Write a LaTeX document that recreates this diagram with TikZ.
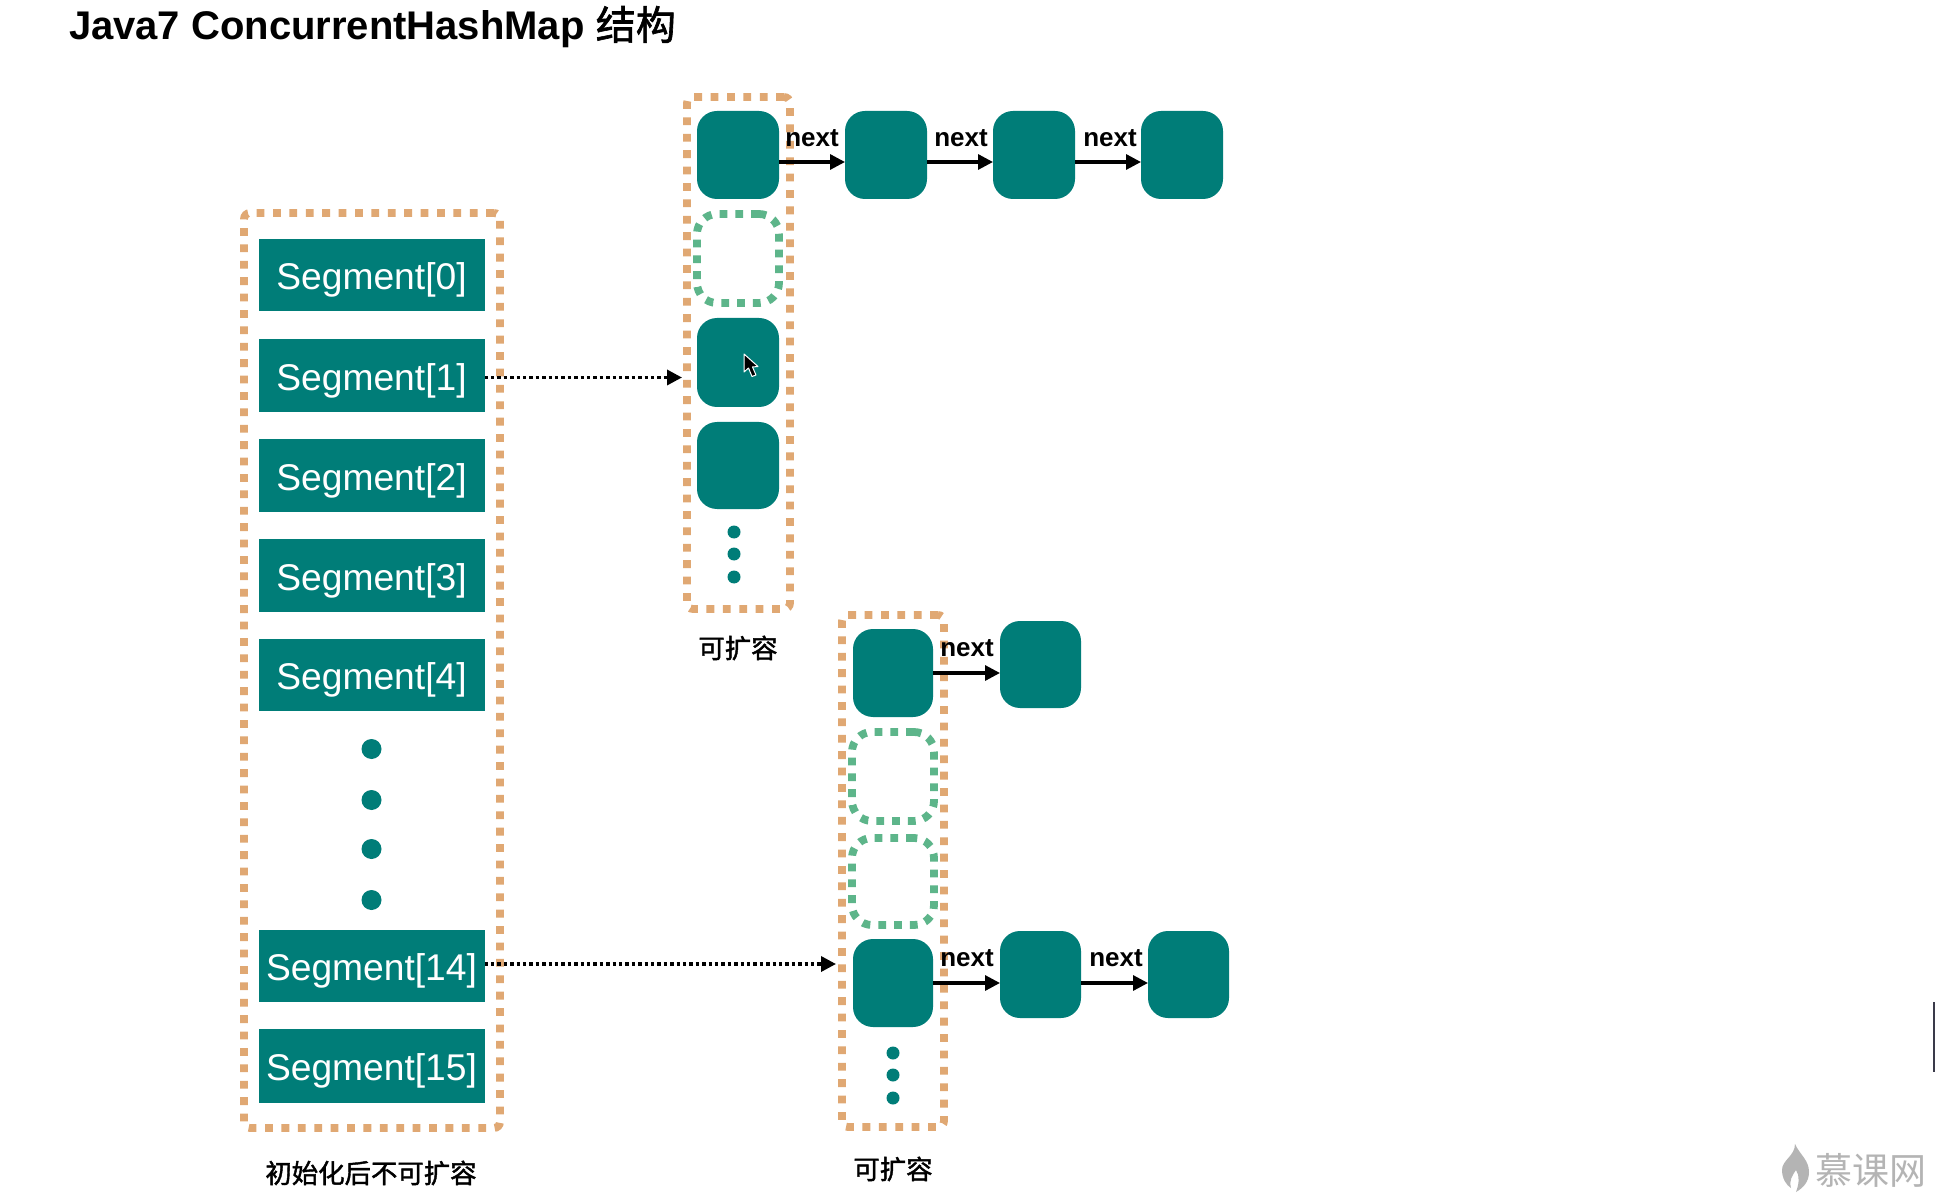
\documentclass[tikz,border=0pt]{standalone}
\usepackage{fontspec}
\setmainfont{Liberation Sans}
\newfontfamily\cjk{Noto Sans CJK SC}
\newfontfamily\cjkm[FakeBold=1.6]{Noto Sans CJK SC}
\usetikzlibrary{arrows.meta,calc}
\definecolor{tealc}{HTML}{007D78}
\definecolor{orangec}{HTML}{E0A873}
\definecolor{greenc}{HTML}{5DB58A}
\definecolor{wmc}{HTML}{B4B4B4}
\definecolor{barc}{HTML}{3A3A4A}
\tikzset{
  every node/.style={inner sep=0pt,outer sep=0pt},
  orangebox/.style={draw=orangec,line width=3.9pt,dash pattern=on 3.9pt off 4.3pt,rounded corners=3pt,fill=none},
  slotbox/.style={draw=greenc,line width=3.9pt,dash pattern=on 3.9pt off 4pt,rounded corners=10pt,fill=none},
  tealnode/.style={fill=tealc,rounded corners=10pt},
  segbox/.style={fill=tealc,text=white,text height=14.6pt,text depth=0pt,font=\fontsize{18.6}{22}\selectfont},
  dotnode/.style={circle,fill=tealc,minimum size=#1},
  nextlabel/.style={font=\fontsize{13}{15}\selectfont\bfseries},
  caption/.style={font=\fontsize{13.2}{15}\selectfont\cjkm},
  linkarrow/.style={draw=black,line width=1.6pt,-{Triangle[length=7.5pt,width=7.5pt]}},
  dotarrow/.style={draw=black,line width=1.7pt,dash pattern=on 1.7pt off 1.5pt,-{Triangle[length=7.5pt,width=7.5pt,sep=0pt]}}
}
\newcommand{\bx}[6]{% style, name, x1,y1,x2,y2
  \pgfmathsetmacro\bxc{(#3+#5)/2}\pgfmathsetmacro\byc{(#4+#6)/2}
  \pgfmathsetmacro\bxw{(#5-#3)*0.5}\pgfmathsetmacro\bxh{(#6-#4)*0.5}
  \node[#1,minimum width=\bxw pt,minimum height=\bxh pt] (#2) at (\bxc,\byc) {};}
\newcommand{\sg}[4]{% name, y1, y2, text
  \pgfmathsetmacro\byc{(#2+#3)/2}\pgfmathsetmacro\bxh{(#3-#2)*0.5}
  \node[segbox,minimum width=113pt,minimum height=\bxh pt] (#1) at (371.5,\byc) {#4};}
\begin{document}
\begin{tikzpicture}[x=0.5pt,y=-0.5pt]
\useasboundingbox (0,0) rectangle (1935,1198);
\fill[white] (0,0) rectangle (1935,1198);
\node[anchor=west,font=\fontsize{20}{24}\selectfont\bfseries] (title) at (69,27) {Java7 ConcurrentHashMap {\cjkm\mdseries 结构}};
% outer boxes
\bx{orangebox}{left}{244}{213}{500}{1128}
\bx{orangebox}{boxA}{687}{97}{790}{609}
\bx{orangebox}{boxB}{842}{615}{944}{1127}
% segments
\sg{s0}{239}{311}{Segment[0]}
\sg{s1}{339}{412}{Segment[1]}
\sg{s2}{439}{512}{Segment[2]}
\sg{s3}{539}{612}{Segment[3]}
\sg{s4}{639}{711}{Segment[4]}
\sg{s14}{930}{1002}{Segment[14]}
\sg{s15}{1029}{1103}{Segment[15]}
\node[dotnode=10pt] (ld1) at (371.5,749) {};
\node[dotnode=10pt] (ld2) at (371.5,800) {};
\node[dotnode=10pt] (ld3) at (371.5,849) {};
\node[dotnode=10pt] (ld4) at (371.5,900) {};
% column A
\bx{tealnode}{a0}{697}{111}{779}{199}
\bx{slotbox}{a1}{697}{214}{779}{303}
\bx{tealnode}{a2}{697}{318}{779}{407}
\bx{tealnode}{a3}{697}{422}{779}{509}
\node[dotnode=6.5pt] (ad1) at (734,532) {};
\node[dotnode=6.5pt] (ad2) at (734,554) {};
\node[dotnode=6.5pt] (ad3) at (734,577) {};
\bx{tealnode}{a4}{845}{111}{927}{199}
\bx{tealnode}{a5}{993}{111}{1075}{199}
\bx{tealnode}{a6}{1141}{111}{1223}{199}
% column B
\bx{tealnode}{b0}{853}{629}{933}{717}
\bx{slotbox}{b1}{852}{732}{934}{821}
\bx{slotbox}{b2}{852}{838}{934}{925}
\bx{tealnode}{b3}{853}{939}{933}{1027}
\node[dotnode=6.5pt] (bd1) at (893,1053) {};
\node[dotnode=6.5pt] (bd2) at (893,1075) {};
\node[dotnode=6.5pt] (bd3) at (893,1098) {};
\bx{tealnode}{b4}{1000}{621}{1081}{708}
\bx{tealnode}{b5}{1000}{931}{1081}{1018}
\bx{tealnode}{b6}{1148}{931}{1229}{1018}
% links
\draw[linkarrow] ([yshift=-3.5pt]a0.east) -- ([yshift=-3.5pt]a4.west);
\draw[linkarrow] ([yshift=-3.5pt]a4.east) -- ([yshift=-3.5pt]a5.west);
\draw[linkarrow] ([yshift=-3.5pt]a5.east) -- ([yshift=-3.5pt]a6.west);
\draw[linkarrow] (b0.east) -- (b0.east -| b4.west);
\draw[linkarrow] (b3.east) -- (b3.east -| b5.west);
\draw[linkarrow] (b3.east -| b5.east) -- (b3.east -| b6.west);
\draw[dotarrow,shorten >=2.5pt] ([yshift=-1pt]s1.east) -- ([yshift=-1pt]boxA.west |- s1.east);
\draw[dotarrow,shorten >=3pt] ([yshift=1pt]s14.east) -- ([yshift=1pt]boxB.west |- s14.east);
% labels
\node[nextlabel] (n1) at (812,138) {next};
\node[nextlabel] (n2) at (961,138) {next};
\node[nextlabel] (n3) at (1110,138) {next};
\node[nextlabel] (n4) at (967,648) {next};
\node[nextlabel] (n5) at (967,958) {next};
\node[nextlabel] (n6) at (1116,958) {next};
\node[caption] (c1) at (371,1173) {初始化后不可扩容};
\node[caption] (c2) at (738,648) {可扩容};
\node[caption] (c3) at (893,1169) {可扩容};
% mouse cursor
\draw[white,fill=black,line width=0.5pt,line join=round] (744,354) -- (744,372) -- (748.5,368) -- (752,376.5) -- (756,375) -- (752.5,367) -- (758,366.5) -- cycle;
% edge bar
\fill[barc] (1933,1002) rectangle (1935,1072);
% watermark
\fill[wmc] (1795,1144) .. controls (1800,1155) and (1809,1160) .. (1809,1172) .. controls (1809,1182) and (1803,1188) .. (1796,1192) .. controls (1799,1184) and (1800,1176) .. (1796,1170) .. controls (1792,1176) and (1789,1180) .. (1791,1188) .. controls (1786,1185) and (1782,1178) .. (1782,1170) .. controls (1782,1160) and (1795,1156) .. (1795,1144) -- cycle;
\node[text=wmc,font=\fontsize{18.5}{22}\selectfont\cjk,anchor=west] (wm) at (1815,1170) {慕课网};
\end{tikzpicture}
\end{document}
